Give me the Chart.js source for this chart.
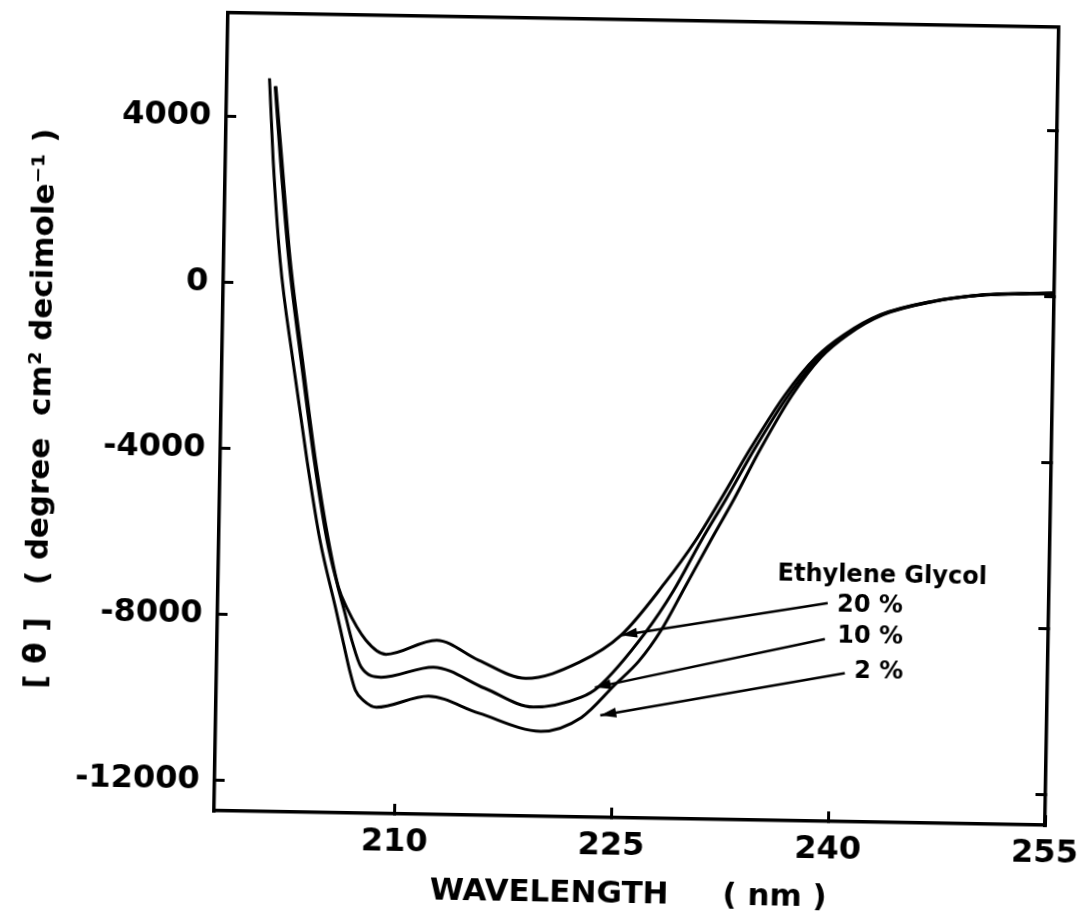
<!DOCTYPE html>
<html>
<head>
<meta charset="utf-8">
<title>CD spectra in ethylene glycol</title>
<script src="https://cdn.jsdelivr.net/npm/chart.js@4.4.1/dist/chart.umd.min.js"></script>
<style>
  html, body { margin: 0; padding: 0; background: #fff; overflow: hidden; }
  /* the original plate sits about a degree off square */
  #wrap { width: 1100px; height: 914px; transform: rotate(1deg); transform-origin: 637px 419px; }
  canvas { display: block; }
</style>
</head>
<body>
<div id="wrap"><canvas id="cd" width="1100" height="914"></canvas></div>
<script>
// wavelength (nm) and ellipticity [θ] for each ethylene glycol concentration
const wl20 = [200.9, 201.4, 202.1, 203.07, 204.09, 205.08, 205.83, 206.41, 207.8, 209.2, 212.7, 215.6, 218.9, 222.6, 225.45, 228.4, 230.46, 232.2, 234.2, 236.5, 238.6, 240.5, 243.0, 246.5, 249.9, 255];
const theta20 = [4750, 2990, 580, -1830, -4240, -6160, -7290, -7770, -8560, -8890, -8530, -8990, -9410, -9000, -8330, -7060, -6030, -5000, -3760, -2470, -1550, -1000, -500, -160, 20, 100];

const wl10 = [200.85, 201.3, 202.0, 202.97, 204.0, 204.98, 205.8, 206.3, 206.85, 207.5, 208.9, 212.5, 216.1, 219.45, 222.76, 223.9, 227.1, 229.0, 230.86, 232.55, 234.5, 236.75, 238.8, 240.65, 243.1, 246.6, 250, 255];
const theta10 = [4750, 2990, 580, -1830, -4240, -6160, -7290, -7900, -8600, -9210, -9445, -9180, -9670, -10100, -9843, -9600, -8270, -7250, -6030, -5000, -3760, -2470, -1550, -1000, -500, -160, 15, 90];

const wl2 = [200.45, 200.8, 201.4, 202.4, 203.5, 204.5, 205.65, 206.2, 206.76, 207.13, 207.69, 208.6, 212.2, 215.7, 220.0, 222.8, 225.1, 226.7, 228.2, 229.8, 231.5, 233.1, 234.9, 237.0, 238.95, 240.75, 243.2, 246.7, 250, 255];
const theta2 = [4940, 2980, 570, -1840, -4240, -6170, -7780, -8570, -9360, -9770, -10010, -10170, -9880, -10270, -10680, -10330, -9520, -8950, -8200, -7150, -6030, -5000, -3760, -2470, -1550, -1000, -500, -160, 10, 80];

const xTicks = [210, 225, 240, 255];
const yTicks = [4000, 0, -4000, -8000, -12000];

// callout text and arrows, in data units
const legendTitle = 'Ethylene Glycol';
const legendTitleAt = [236.2, -6790];
const arrowLabels = ['20 %', '10 %', '2 %'];
const labelAt = [[244.9, -7510], [244.95, -8260], [245.0, -9105]];
const arrowFrom = [[239.7, -7470], [239.55, -8340], [240.97, -9150]];
const arrowTo = [[225.45, -8330], [223.7, -9600], [224.1, -10270]];

const X_MIN = 197.5, X_MAX = 255;
const Y_MIN = -12730, Y_MAX = 6500;

Chart.defaults.font.family = '"DejaVu Sans", sans-serif';
Chart.defaults.color = '#000';

const calloutPlugin = {
  id: 'callouts',
  afterDatasetsDraw(chart) {
    const { ctx, scales: { x, y } } = chart;
    ctx.save();
    ctx.fillStyle = '#000';
    ctx.strokeStyle = '#000';
    ctx.textBaseline = 'middle';

    ctx.font = 'bold 24px "DejaVu Sans"';
    ctx.textAlign = 'left';
    ctx.fillText(legendTitle, x.getPixelForValue(legendTitleAt[0]), y.getPixelForValue(legendTitleAt[1]));

    ctx.textAlign = 'right';
    arrowLabels.forEach((t, i) => {
      ctx.fillText(t, x.getPixelForValue(labelAt[i][0]), y.getPixelForValue(labelAt[i][1]));

      const x0 = x.getPixelForValue(arrowFrom[i][0]), y0 = y.getPixelForValue(arrowFrom[i][1]);
      const x1 = x.getPixelForValue(arrowTo[i][0]), y1 = y.getPixelForValue(arrowTo[i][1]);
      ctx.lineWidth = 2.5;
      ctx.beginPath();
      ctx.moveTo(x0, y0);
      ctx.lineTo(x1, y1);
      ctx.stroke();

      // filled head
      const a = Math.atan2(y1 - y0, x1 - x0);
      const len = 16, half = 5;
      ctx.beginPath();
      ctx.moveTo(x1, y1);
      ctx.lineTo(x1 - len * Math.cos(a) + half * Math.sin(a), y1 - len * Math.sin(a) - half * Math.cos(a));
      ctx.lineTo(x1 - len * Math.cos(a) - half * Math.sin(a), y1 - len * Math.sin(a) + half * Math.cos(a));
      ctx.closePath();
      ctx.fill();
    });
    ctx.restore();
  },
};

function trace(label, wl, theta) {
  return {
    label,
    data: wl.map((w, i) => ({ x: w, y: theta[i] })),
    borderColor: '#000',
    borderWidth: 3,
    pointRadius: 0,
    fill: false,
    cubicInterpolationMode: 'monotone',
    xAxisID: 'x',
    yAxisID: 'y',
  };
}

const frame = { display: true, color: '#000', width: 3.5 };
const inwardTicks = { display: true, drawOnChartArea: false, drawTicks: true, tickLength: -10, color: '#000', lineWidth: 3 };
const setTicks = list => scale => { scale.ticks = list.map(v => ({ value: v })); };

// fixed box sizes; edge labels may overhang the plot instead of shrinking it
const fixWidth = w => s => { s.width = w; s.paddingTop = 0; s.paddingBottom = 0; };
const fixHeight = h => s => { s.height = h; s.paddingLeft = 0; s.paddingRight = 0; };

new Chart(document.getElementById('cd'), {
  type: 'line',
  data: {
    datasets: [
      trace('20%', wl20, theta20),
      trace('10%', wl10, theta10),
      trace('2%', wl2, theta2),
    ],
  },
  options: {
    responsive: false,
    animation: false,
    devicePixelRatio: 1,
    layout: { padding: 0 },
    plugins: { legend: { display: false }, tooltip: { enabled: false } },
    scales: {
      x: {
        type: 'linear',
        position: 'bottom',
        min: X_MIN,
        max: X_MAX,
        border: frame,
        grid: inwardTicks,
        afterBuildTicks: setTicks(xTicks),
        ticks: {
          color: '#000',
          font: { size: 32, weight: 'bold' },
          padding: 19,
          autoSkip: false,
          maxRotation: 0,
          callback: v => String(v),
        },
        title: {
          display: true,
          text: 'WAVELENGTH     ( nm )',
          color: '#000',
          font: { size: 31, weight: 'bold' },
          padding: { top: 0, bottom: 0 },
        },
        afterFit: fixHeight(96),
      },
      x2: {
        type: 'linear',
        position: 'top',
        min: X_MIN,
        max: X_MAX,
        border: frame,
        grid: { display: false },
        ticks: { display: false },
        afterFit: fixHeight(20),
      },
      y: {
        type: 'linear',
        position: 'left',
        min: Y_MIN,
        max: Y_MAX,
        border: frame,
        grid: inwardTicks,
        afterBuildTicks: setTicks(yTicks),
        ticks: {
          color: '#000',
          font: { size: 32, weight: 'bold' },
          padding: 25,
          autoSkip: false,
          callback: v => String(v),
        },
        title: {
          display: true,
          text: '[ θ ]   ( degree  cm² decimole⁻¹ )',
          color: '#000',
          font: { size: 31, weight: 'bold' },
          padding: { top: 23, bottom: 0 },
        },
        afterFit: fixWidth(221),
      },
      y2: {
        type: 'linear',
        position: 'right',
        min: Y_MIN,
        max: Y_MAX,
        border: frame,
        grid: inwardTicks,
        afterBuildTicks: setTicks(yTicks),
        ticks: { display: false },
        afterFit: fixWidth(48),
      },
    },
  },
  plugins: [calloutPlugin],
});
</script>
</body>
</html>
